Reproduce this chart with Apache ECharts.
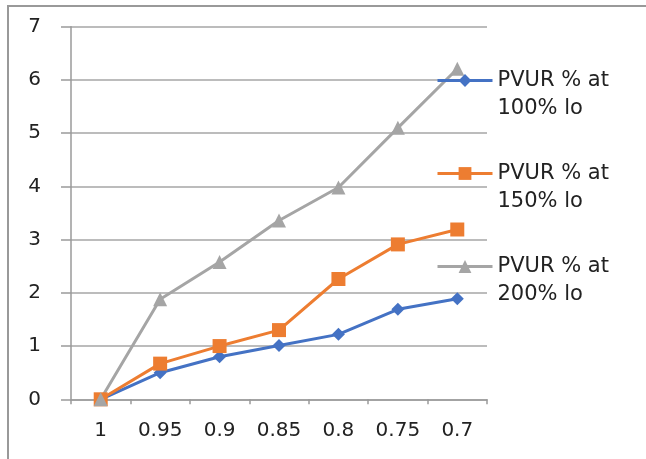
<!DOCTYPE html>
<html>
<head>
<meta charset="utf-8">
<script src="https://cdn.jsdelivr.net/npm/echarts@6/dist/echarts.min.js"></script>
<style>
html,body{margin:0;padding:0;background:#fff;overflow:hidden;}
#frameTop{position:absolute;left:7px;top:5px;width:639px;height:0;border-top:2px solid #999;}
#frameLeft{position:absolute;left:7px;top:5px;width:0;height:454px;border-left:2px solid #999;}
#chart{position:absolute;left:0;top:0;width:646px;height:459px;}
</style>
</head>
<body>
<div id="frameTop"></div>
<div id="frameLeft"></div>
<div id="chart"></div>
<script>
const categories = ['1', '0.95', '0.9', '0.85', '0.8', '0.75', '0.7'];
const seriesNames = ['PVUR % at 100% lo', 'PVUR % at 150% lo', 'PVUR % at 200% lo'];
const legendLines = [['PVUR % at', '100% lo'], ['PVUR % at', '150% lo'], ['PVUR % at', '200% lo']];
const pvur100 = [0, 0.50, 0.80, 1.01, 1.22, 1.69, 1.89];
const pvur150 = [0, 0.67, 1.00, 1.30, 2.26, 2.91, 3.19];
const pvur200 = [0, 1.88, 2.58, 3.36, 3.98, 5.10, 6.21];
const yTicks = [0, 1, 2, 3, 4, 5, 6, 7];

const FONT = 'DejaVu Sans';
const chart = echarts.init(document.getElementById('chart'), null, {renderer: 'canvas'});
function mk(name, data, color, symbol, size) {
  return {
    name: name, type: 'line', data: data,
    symbol: symbol, symbolSize: size,
    lineStyle: {color: color, width: 3},
    itemStyle: {color: color},
    emphasis: {disabled: true},
    animation: false
  };
}
chart.setOption({
  animation: false,
  grid: {left: 71, right: 159, top: 26.7, bottom: 59.7, containLabel: false},
  xAxis: {
    type: 'category', data: categories, boundaryGap: true,
    axisLine: {lineStyle: {color: '#9a9a9a', width: 1.5}},
    axisTick: {show: true, length: 5, lineStyle: {color: '#9a9a9a', width: 1.5}},
    axisLabel: {color: '#222', fontFamily: FONT, fontSize: 20, margin: 21}
  },
  yAxis: {
    type: 'value', min: yTicks[0], max: yTicks[yTicks.length - 1], interval: 1,
    axisLine: {show: true, lineStyle: {color: '#9a9a9a', width: 1.5}},
    axisTick: {show: true, length: 10, lineStyle: {color: '#9a9a9a', width: 1.5}},
    splitLine: {show: true, lineStyle: {color: '#a6a6a6', width: 1.5}},
    axisLabel: {color: '#222', fontFamily: FONT, fontSize: 20, margin: 30}
  },
  legend: {
    orient: 'vertical', left: 436, top: 42, itemGap: 16, padding: 0,
    itemWidth: 55, itemHeight: 16,
    lineStyle: {width: 3},
    data: seriesNames,
    formatter: function (name) {
      const i = seriesNames.indexOf(name);
      return '{e|\u00a0}\n{a|' + legendLines[i][0] + '}\n{a|' + legendLines[i][1] + '}';
    },
    textStyle: {
      fontFamily: FONT, fontSize: 21, color: '#222',
      rich: {
        e: {fontFamily: FONT, fontSize: 21, lineHeight: 28},
        a: {fontFamily: FONT, fontSize: 21, lineHeight: 28, color: '#222'}
      }
    }
  },
  series: [
    mk(seriesNames[0], pvur100, '#4472C4', 'diamond', 13),
    mk(seriesNames[1], pvur150, '#ED7D31', 'rect', 14),
    mk(seriesNames[2], pvur200, '#A5A5A5', 'triangle', 14)
  ]
});
</script>
</body>
</html>
